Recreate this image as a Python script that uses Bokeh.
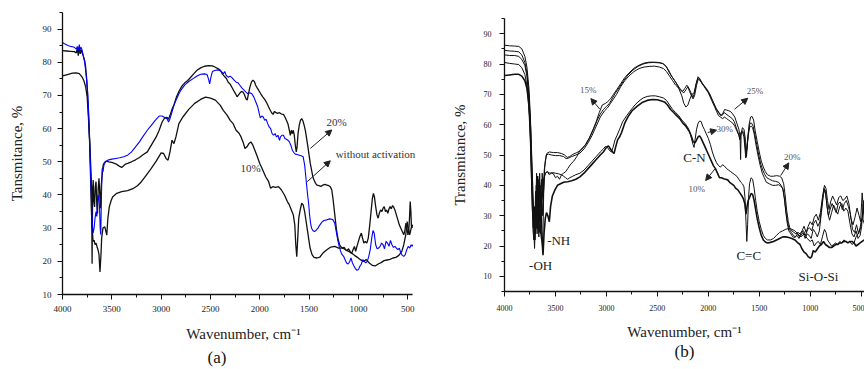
from bokeh.plotting import figure
from bokeh.layouts import row
from bokeh.models import Range1d, SingleIntervalTicker, Label, Arrow, NormalHead, Title
from bokeh.embed import file_html
from bokeh.resources import INLINE

FONT = "Liberation Serif"

# ---------------- data: (wavenumber cm-1, transmittance %) ----------------
a_without = [(4000,86.0),(3980,85.6),(3960,85.3),(3940,85.0),(3920,84.8),(3900,84.7),(3880,84.5),(3860,84.0),(3850,84.8),(3840,83.5),(3830,85.3),(3820,83.8),(3810,84.5),(3800,83.5),(3790,82.0),(3775,80.0),(3760,76.0),(3745,71.0),(3735,65.0),(3725,56.0),(3715,47.0),(3705,37.0),(3697,31.0),(3690,28.5),(3680,30.0),(3670,33.0),(3660,35.0),(3652,33.5),(3645,38.0),(3635,40.0),(3625,36.5),(3618,30.0),(3612,28.0),(3605,40.0),(3598,48.0),(3590,47.0),(3580,49.0),(3565,50.0),(3540,50.5),(3500,50.8),(3460,51.0),(3420,51.2),(3380,51.5),(3340,52.0),(3300,53.0),(3260,54.5),(3220,56.0),(3180,57.8),(3140,59.5),(3100,61.0),(3060,62.5),(3020,63.8),(2990,63.8),(2960,63.3),(2940,63.0),(2925,62.0),(2910,63.0),(2890,65.0),(2870,67.0),(2850,68.5),(2820,70.5),(2790,72.0),(2760,73.2),(2720,74.2),(2680,75.0),(2640,75.8),(2600,76.4),(2560,76.5),(2535,76.3),(2520,75.0),(2508,73.5),(2495,75.5),(2480,77.2),(2450,77.6),(2420,77.7),(2390,77.3),(2370,76.5),(2355,77.2),(2340,76.0),(2320,75.5),(2300,75.8),(2280,75.3),(2260,74.6),(2240,74.0),(2220,73.8),(2200,73.0),(2180,72.2),(2160,71.6),(2140,71.0),(2120,70.5),(2100,70.8),(2080,70.5),(2060,69.5),(2040,68.0),(2020,66.5),(2005,64.5),(1995,63.2),(1980,63.8),(1965,63.5),(1950,62.5),(1935,62.8),(1920,61.5),(1905,60.5),(1890,60.0),(1875,58.5),(1860,58.0),(1845,58.5),(1830,57.5),(1815,58.0),(1800,56.5),(1790,57.5),(1775,58.0),(1760,58.0),(1745,57.0),(1730,56.8),(1715,56.5),(1700,56.0),(1685,55.0),(1670,53.5),(1655,52.8),(1640,52.3),(1620,52.2),(1600,52.0),(1580,51.8),(1560,51.5),(1545,49.0),(1535,46.0),(1525,43.0),(1515,40.0),(1505,37.5),(1495,34.0),(1485,31.5),(1475,30.0),(1460,29.2),(1445,29.0),(1430,29.3),(1410,30.0),(1390,31.0),(1370,31.8),(1350,32.3),(1320,32.5),(1290,32.8),(1260,32.6),(1240,31.5),(1225,29.0),(1210,26.5),(1195,24.5),(1180,23.0),(1165,22.0),(1150,21.5),(1135,20.5),(1120,19.5),(1105,19.2),(1090,19.8),(1075,21.0),(1060,19.5),(1045,18.6),(1030,17.8),(1015,17.3),(1000,17.5),(985,18.5),(970,19.2),(955,20.5),(940,20.0),(925,19.5),(910,20.0),(895,21.5),(880,23.5),(865,27.0),(852,29.3),(840,28.5),(825,25.0),(810,23.8),(795,24.0),(780,24.5),(765,25.5),(750,25.0),(735,23.8),(720,26.0),(705,25.5),(690,24.5),(675,26.3),(660,25.0),(645,24.2),(630,24.5),(615,24.0),(600,23.5),(585,24.0),(570,22.5),(555,21.8),(540,21.5),(525,22.0),(510,23.5),(495,24.5),(480,24.0),(465,25.0),(455,24.5),(450,25.0)]

a_20 = [(4000,83.5),(3960,83.4),(3920,83.3),(3880,83.2),(3860,82.8),(3850,84.2),(3840,82.0),(3830,84.5),(3820,82.5),(3810,83.8),(3800,82.8),(3790,82.0),(3775,80.5),(3765,78.5),(3752,74.0),(3743,68.5),(3733,62.0),(3723,55.5),(3713,48.0),(3705,42.0),(3700,19.3),(3695,40.0),(3689,44.5),(3682,38.0),(3675,36.4),(3668,42.5),(3660,44.0),(3652,37.0),(3645,34.4),(3638,42.0),(3630,45.0),(3622,40.0),(3615,36.0),(3608,42.5),(3598,46.0),(3588,49.0),(3575,49.8),(3555,50.2),(3530,50.0),(3500,49.8),(3480,49.6),(3460,49.4),(3440,49.0),(3420,48.6),(3400,48.3),(3380,48.8),(3360,49.3),(3340,49.5),(3300,50.0),(3260,50.6),(3220,51.3),(3180,52.2),(3140,53.0),(3110,54.5),(3080,56.0),(3050,57.5),(3020,59.5),(2990,62.0),(2965,63.2),(2940,63.4),(2925,62.8),(2910,64.0),(2890,65.8),(2870,67.2),(2845,69.5),(2820,71.2),(2790,72.8),(2760,73.8),(2730,74.5),(2700,75.5),(2670,76.5),(2640,77.5),(2600,78.3),(2560,78.8),(2520,79.0),(2480,78.9),(2450,78.5),(2420,78.0),(2400,77.6),(2380,76.5),(2360,75.8),(2340,75.2),(2320,74.0),(2300,73.4),(2280,72.3),(2260,71.2),(2245,70.5),(2230,69.6),(2215,70.2),(2200,70.8),(2185,71.2),(2170,71.0),(2155,70.2),(2140,69.0),(2127,68.6),(2115,70.5),(2100,72.5),(2085,74.0),(2070,74.6),(2055,74.2),(2040,73.0),(2025,72.2),(2010,71.5),(1990,70.5),(1970,69.6),(1950,68.8),(1930,67.8),(1910,66.5),(1895,65.6),(1880,64.8),(1865,64.3),(1850,65.2),(1835,64.8),(1820,64.6),(1800,64.8),(1780,64.4),(1760,64.3),(1745,63.5),(1730,62.5),(1715,61.5),(1700,59.5),(1690,58.0),(1680,59.5),(1670,58.5),(1660,59.5),(1650,58.0),(1640,55.0),(1630,53.0),(1622,54.5),(1612,58.5),(1600,61.0),(1588,62.5),(1575,63.0),(1562,62.3),(1550,61.0),(1538,59.5),(1525,57.0),(1512,54.5),(1500,52.0),(1488,49.5),(1475,47.5),(1462,45.5),(1450,44.5),(1435,43.5),(1420,43.0),(1400,42.8),(1380,42.6),(1360,43.0),(1340,43.2),(1320,43.0),(1300,42.8),(1285,42.5),(1270,41.5),(1258,39.0),(1245,35.5),(1232,32.0),(1220,29.0),(1205,26.5),(1190,25.0),(1175,24.3),(1160,24.0),(1145,24.2),(1130,23.5),(1115,23.2),(1100,23.8),(1085,23.0),(1070,22.3),(1055,23.5),(1040,24.5),(1028,23.0),(1015,24.5),(1000,26.0),(985,27.5),(970,28.5),(958,27.0),(945,25.5),(930,26.0),(915,25.5),(900,27.0),(885,31.0),(870,35.5),(858,39.0),(848,40.5),(838,39.5),(825,36.5),(812,34.0),(800,33.0),(788,34.5),(775,35.5),(762,35.0),(750,36.0),(738,36.5),(726,35.0),(714,35.5),(702,34.5),(690,35.8),(678,36.5),(666,35.8),(654,36.8),(642,36.3),(630,35.5),(615,34.0),(600,32.5),(585,31.0),(570,30.0),(555,29.0),(540,28.0),(528,29.5),(518,31.5),(508,30.0),(498,28.0),(490,29.0),(482,33.0),(475,38.0),(468,35.0),(462,30.0),(456,31.0),(450,30.5)]

a_10 = [(4000,75.9),(3950,76.3),(3900,76.7),(3860,76.8),(3830,76.6),(3800,75.5),(3785,74.6),(3765,72.6),(3750,69.6),(3738,64.0),(3726,56.5),(3716,46.0),(3708,36.0),(3700,30.0),(3690,26.0),(3680,26.4),(3670,25.0),(3660,25.5),(3650,24.4),(3640,23.5),(3630,22.0),(3620,16.8),(3610,22.0),(3603,27.0),(3590,30.0),(3571,30.4),(3560,29.0),(3551,27.9),(3540,33.0),(3525,36.5),(3505,38.5),(3490,39.5),(3450,40.5),(3400,41.0),(3340,41.3),(3280,42.0),(3240,42.8),(3200,44.0),(3150,46.0),(3100,48.0),(3050,50.2),(3000,52.7),(2975,52.5),(2950,51.0),(2930,50.5),(2910,53.0),(2890,56.5),(2870,55.5),(2850,57.5),(2820,61.5),(2780,63.5),(2720,65.8),(2660,67.6),(2600,68.8),(2550,69.5),(2500,69.2),(2450,68.6),(2400,67.0),(2370,65.5),(2330,64.0),(2300,62.5),(2270,61.5),(2240,59.5),(2210,58.6),(2190,57.5),(2170,56.0),(2150,54.0),(2130,54.5),(2110,55.5),(2090,56.0),(2070,55.0),(2050,53.5),(2030,52.0),(2000,49.5),(1970,47.5),(1940,45.5),(1910,44.0),(1890,42.0),(1870,42.5),(1840,42.3),(1810,42.5),(1780,41.5),(1750,40.0),(1720,38.0),(1700,37.0),(1680,35.5),(1660,34.0),(1645,31.0),(1635,25.0),(1625,21.4),(1615,27.0),(1605,33.0),(1590,35.5),(1575,37.5),(1560,37.0),(1545,35.0),(1530,32.0),(1510,28.0),(1490,24.0),(1470,22.0),(1450,21.2),(1420,21.0),(1390,21.3),(1360,22.5),(1320,23.5),(1280,24.3),(1240,24.5),(1200,24.0),(1160,24.0),(1130,23.5),(1100,23.0),(1070,22.5),(1040,21.8),(1010,21.2),(980,20.5),(950,20.0),(920,20.5),(890,19.5),(860,18.8),(830,18.6),(800,19.2),(770,19.6),(740,20.2),(710,20.4),(680,20.6),(650,21.0),(620,21.2),(590,21.8),(560,23.0),(540,25.0),(520,28.0),(505,32.0),(495,30.0),(480,28.0),(465,30.0),(450,30.5)]

b_15 = [(4000,86.2),(3950,86.0),(3900,85.9),(3860,85.8),(3830,85.0),(3800,82.5),(3780,79.0),(3760,72.0),(3745,62.0),(3735,50.0),(3725,38.0),(3715,28.0),(3705,19.2),(3695,30.0),(3685,44.0),(3678,30.0),(3670,42.0),(3660,28.0),(3650,40.0),(3640,26.0),(3630,44.0),(3620,35.0),(3610,45.0),(3600,48.0),(3585,50.5),(3560,51.0),(3520,50.8),(3480,50.8),(3440,50.5),(3410,50.0),(3385,49.2),(3360,49.5),(3330,50.2),(3290,50.8),(3250,51.5),(3210,53.2),(3170,55.5),(3130,58.5),(3100,61.0),(3070,64.0),(3040,66.5),(3010,67.0),(2990,67.5),(2960,68.5),(2930,70.0),(2900,71.5),(2860,73.5),(2820,75.5),(2780,77.0),(2730,78.6),(2680,79.6),(2630,80.3),(2580,80.6),(2530,80.6),(2480,80.5),(2440,80.0),(2410,79.0),(2380,77.0),(2350,75.5),(2320,74.0),(2290,72.0),(2260,69.5),(2240,67.0),(2220,65.8),(2200,66.5),(2180,68.5),(2160,70.0),(2140,70.5),(2120,73.5),(2100,75.8),(2080,75.0),(2060,73.5),(2040,72.8),(2020,72.0),(2000,71.0),(1980,69.5),(1960,68.0),(1940,66.5),(1920,65.0),(1900,64.0),(1880,63.0),(1860,63.5),(1840,65.0),(1820,64.8),(1800,64.6),(1780,64.3),(1760,63.5),(1740,62.5),(1720,60.5),(1700,58.5),(1688,56.0),(1683,48.5),(1678,57.0),(1665,59.0),(1650,58.5),(1635,55.0),(1625,49.5),(1615,54.0),(1600,60.0),(1585,62.5),(1570,62.7),(1555,61.5),(1540,58.0),(1520,54.5),(1500,51.0),(1480,48.0),(1460,46.0),(1440,44.5),(1420,43.5),(1390,43.0),(1360,43.0),(1330,43.2),(1300,43.0),(1280,42.5),(1260,40.5),(1245,36.5),(1230,31.5),(1215,28.0),(1200,26.0),(1180,25.0),(1160,24.5),(1140,24.0),(1120,24.5),(1100,24.0),(1080,25.0),(1060,26.5),(1040,24.5),(1020,26.5),(1000,28.0),(980,27.0),(960,29.5),(940,30.5),(920,28.5),(900,31.0),(880,36.0),(860,40.0),(845,39.0),(830,35.0),(815,32.0),(800,34.5),(780,36.5),(760,35.0),(740,33.5),(720,36.0),(700,36.5),(680,35.0),(660,35.5),(640,36.5),(620,34.0),(600,29.0),(580,27.0),(560,29.5),(540,32.5),(520,30.0),(505,28.0),(490,37.5),(475,31.0),(465,30.0)]

b_25 = [(4000,84.5),(3950,84.3),(3900,84.2),(3860,84.0),(3830,83.0),(3800,80.5),(3780,77.0),(3760,70.0),(3745,60.0),(3735,48.0),(3725,36.0),(3715,27.0),(3705,24.0),(3695,38.0),(3685,28.0),(3675,43.0),(3665,27.0),(3655,41.0),(3645,25.0),(3635,38.0),(3625,30.0),(3612,42.0),(3600,44.0),(3580,44.5),(3560,43.5),(3540,44.0),(3520,43.8),(3500,42.5),(3480,43.0),(3460,42.0),(3440,43.5),(3420,44.0),(3400,44.5),(3380,45.5),(3350,47.0),(3320,48.0),(3290,49.5),(3260,51.5),(3230,52.5),(3200,53.5),(3160,56.0),(3120,59.0),(3090,61.5),(3060,63.5),(3030,65.0),(3000,66.0),(2970,67.0),(2940,68.8),(2910,70.5),(2870,72.5),(2830,74.5),(2790,76.3),(2740,78.0),(2690,79.2),(2640,80.0),(2590,80.4),(2540,80.5),(2490,80.4),(2450,80.2),(2420,79.5),(2390,78.0),(2360,76.0),(2330,74.5),(2300,73.0),(2270,71.5),(2250,71.0),(2230,72.0),(2210,73.0),(2190,72.0),(2170,70.5),(2150,69.0),(2135,70.5),(2115,74.0),(2100,75.5),(2085,75.0),(2065,74.0),(2045,73.0),(2025,72.0),(2005,71.0),(1985,70.0),(1965,68.5),(1945,67.0),(1925,65.5),(1905,64.5),(1885,63.5),(1865,63.0),(1845,64.0),(1825,63.5),(1805,63.0),(1785,62.5),(1765,62.0),(1745,61.0),(1725,59.0),(1705,57.0),(1690,55.5),(1678,57.5),(1665,58.0),(1650,57.0),(1638,53.0),(1628,50.0),(1618,53.5),(1605,58.0),(1590,60.5),(1575,60.5),(1560,59.5),(1545,57.0),(1525,53.5),(1505,50.0),(1485,47.0),(1465,45.0),(1445,43.5),(1425,42.5),(1400,42.0),(1370,41.5),(1340,41.3),(1310,41.0),(1285,40.0),(1265,38.5),(1250,35.0),(1235,30.5),(1220,27.5),(1205,25.5),(1185,24.5),(1165,23.5),(1145,23.0),(1125,24.0),(1105,23.0),(1085,24.5),(1065,25.0),(1045,23.5),(1025,25.5),(1005,26.0),(985,25.0),(965,27.5),(945,28.5),(925,26.5),(905,28.0),(885,33.5),(865,39.0),(850,38.0),(835,33.0),(820,30.0),(805,32.0),(785,34.0),(765,32.5),(745,31.0),(725,34.0),(705,34.5),(685,32.0),(665,34.0),(645,35.0),(625,33.0),(605,30.5),(585,25.5),(565,24.5),(545,27.0),(525,24.0),(505,26.0),(490,29.0),(475,35.0),(465,29.0)]

b_20 = [(4000,83.0),(3950,82.8),(3900,82.8),(3860,82.5),(3830,81.5),(3800,79.5),(3780,76.0),(3762,69.0),(3748,58.0),(3738,46.0),(3728,34.0),(3720,25.0),(3712,22.0),(3705,33.0),(3697,24.0),(3688,40.0),(3680,24.0),(3672,36.0),(3663,23.0),(3655,32.0),(3645,24.0),(3637,30.0),(3628,20.5),(3622,25.0),(3615,38.0),(3605,46.0),(3590,50.0),(3570,50.3),(3540,50.0),(3500,49.8),(3460,49.8),(3420,49.5),(3395,48.8),(3370,49.0),(3340,49.5),(3300,50.0),(3260,50.6),(3220,52.0),(3180,54.0),(3140,56.5),(3100,59.5),(3060,62.5),(3020,64.5),(2990,65.5),(2960,67.0),(2930,68.5),(2900,70.0),(2860,72.5),(2820,74.5),(2780,76.0),(2730,77.5),(2680,78.5),(2630,79.0),(2580,79.2),(2530,79.3),(2480,79.0),(2440,78.5),(2410,77.5),(2380,76.0),(2350,74.5),(2320,73.0),(2290,72.0),(2260,71.0),(2240,70.5),(2220,71.5),(2200,72.5),(2185,71.0),(2165,69.5),(2150,68.5),(2135,69.5),(2115,73.0),(2098,75.0),(2080,74.5),(2060,73.5),(2040,72.5),(2020,71.5),(2000,70.5),(1980,69.0),(1960,67.5),(1940,66.0),(1920,64.5),(1900,63.0),(1880,62.5),(1860,62.0),(1840,62.5),(1820,62.0),(1800,61.5),(1780,61.0),(1760,60.5),(1740,59.5),(1720,58.0),(1700,56.5),(1690,55.0),(1680,57.0),(1665,57.5),(1650,56.0),(1640,52.0),(1632,49.0),(1622,52.0),(1610,56.0),(1595,59.0),(1580,59.5),(1565,59.0),(1550,57.0),(1530,53.0),(1510,49.5),(1490,46.5),(1470,44.0),(1450,42.5),(1430,41.0),(1400,40.5),(1370,40.0),(1340,40.0),(1310,40.2),(1290,39.8),(1270,39.0),(1255,36.0),(1240,31.5),(1225,27.5),(1210,25.0),(1190,24.0),(1170,23.0),(1150,22.8),(1130,23.5),(1110,22.5),(1090,23.5),(1070,24.5),(1050,22.5),(1030,24.0),(1010,23.5),(990,22.5),(970,25.5),(950,24.5),(930,23.0),(910,25.0),(890,31.0),(870,37.0),(855,38.5),(840,35.0),(825,30.5),(810,28.5),(790,31.0),(770,33.5),(750,32.0),(730,30.5),(710,33.0),(690,34.0),(670,31.5),(650,32.5),(630,31.5),(610,27.5),(590,24.0),(570,23.0),(550,25.0),(530,22.5),(510,23.5),(495,26.5),(480,34.0),(470,28.0)]

b_30 = [(4000,80.5),(3950,80.2),(3900,80.0),(3860,79.8),(3830,78.8),(3800,76.5),(3780,73.0),(3762,66.0),(3748,56.0),(3738,45.0),(3728,33.0),(3718,26.0),(3710,32.0),(3700,22.0),(3692,35.0),(3683,26.0),(3674,43.0),(3665,30.0),(3655,44.0),(3645,33.0),(3635,42.0),(3625,36.0),(3615,42.0),(3600,44.0),(3580,44.5),(3555,44.0),(3530,44.2),(3500,44.0),(3470,43.8),(3440,43.5),(3420,43.0),(3400,42.5),(3380,42.0),(3360,42.5),(3330,43.0),(3300,43.5),(3260,44.0),(3220,45.0),(3180,46.5),(3140,48.0),(3100,49.5),(3060,51.0),(3030,52.0),(3010,52.8),(2990,52.5),(2970,51.5),(2950,51.0),(2935,52.5),(2915,55.0),(2895,56.5),(2870,58.5),(2840,61.0),(2800,63.0),(2760,64.8),(2720,66.5),(2680,67.8),(2640,68.8),(2600,69.3),(2560,69.5),(2520,69.5),(2480,69.2),(2440,68.8),(2410,68.0),(2380,66.5),(2350,65.0),(2320,64.0),(2290,63.0),(2260,61.5),(2230,60.5),(2200,59.0),(2180,57.5),(2165,55.5),(2150,53.5),(2140,52.5),(2130,55.0),(2115,58.5),(2100,60.5),(2085,61.2),(2070,61.0),(2055,59.5),(2040,58.5),(2020,57.0),(2000,55.5),(1980,53.5),(1960,51.0),(1940,49.0),(1920,47.5),(1900,46.5),(1880,46.0),(1860,46.8),(1840,46.3),(1820,45.5),(1800,45.0),(1780,44.5),(1760,44.0),(1740,43.5),(1720,43.0),(1700,42.0),(1680,41.0),(1665,40.5),(1650,39.5),(1640,36.0),(1630,28.0),(1622,21.5),(1614,27.0),(1605,36.0),(1595,40.5),(1580,42.5),(1565,42.0),(1550,39.0),(1535,35.0),(1520,31.5),(1500,28.0),(1480,25.5),(1460,23.5),(1440,22.5),(1420,22.0),(1390,22.0),(1360,22.5),(1330,23.5),(1300,24.5),(1270,25.0),(1240,25.5),(1210,25.8),(1180,25.5),(1150,25.0),(1120,24.0),(1090,23.0),(1060,24.0),(1030,22.5),(1000,21.5),(980,22.0),(960,20.0),(940,21.0),(920,21.5),(900,20.5),(880,23.0),(860,25.5),(845,24.5),(830,22.0),(810,21.0),(790,20.0),(770,20.5),(750,21.0),(730,20.5),(710,21.5),(690,21.0),(670,22.0),(650,21.5),(630,21.0),(610,21.5),(590,20.5),(570,21.0),(550,23.0),(530,24.0),(510,26.0),(495,29.0),(480,28.5),(465,27.0)]

b_10 = [(4000,76.2),(3950,76.4),(3900,76.6),(3860,76.6),(3830,76.0),(3800,74.5),(3780,72.0),(3765,68.0),(3750,62.0),(3738,52.0),(3728,42.0),(3718,33.0),(3708,28.0),(3698,26.0),(3688,30.0),(3678,25.5),(3668,29.0),(3658,24.5),(3648,27.0),(3638,23.0),(3630,21.0),(3622,17.0),(3612,24.0),(3600,29.0),(3588,31.0),(3575,30.0),(3560,28.0),(3548,33.0),(3530,36.5),(3505,38.5),(3480,40.0),(3450,40.5),(3420,41.0),(3380,41.2),(3340,41.5),(3300,42.0),(3260,42.8),(3220,44.0),(3180,45.5),(3140,47.0),(3100,48.5),(3060,50.0),(3030,51.0),(3000,52.5),(2980,53.0),(2960,52.0),(2940,51.0),(2925,50.5),(2910,52.5),(2890,55.0),(2870,56.0),(2850,57.5),(2820,60.5),(2790,62.5),(2750,64.5),(2700,66.0),(2650,67.3),(2600,68.0),(2550,68.3),(2500,68.2),(2460,67.8),(2430,67.5),(2400,66.5),(2370,65.0),(2340,64.0),(2310,63.0),(2280,62.0),(2250,60.5),(2220,59.5),(2190,58.0),(2170,56.5),(2150,54.5),(2130,54.0),(2115,55.0),(2100,56.0),(2085,56.3),(2070,55.5),(2050,54.0),(2030,52.5),(2010,51.0),(1990,49.5),(1970,48.0),(1950,46.5),(1930,45.5),(1910,44.0),(1890,42.5),(1870,42.5),(1850,42.2),(1830,42.0),(1810,41.8),(1790,41.0),(1770,40.5),(1750,40.0),(1730,39.0),(1710,38.5),(1690,37.5),(1670,36.5),(1655,35.5),(1642,34.0),(1630,30.5),(1620,33.0),(1608,35.0),(1595,36.0),(1580,37.3),(1565,37.0),(1550,35.0),(1535,32.0),(1520,29.0),(1500,26.0),(1480,23.5),(1460,22.0),(1440,21.3),(1420,21.0),(1390,21.2),(1360,21.5),(1330,22.0),(1300,22.5),(1270,23.0),(1240,23.0),(1210,22.8),(1180,22.5),(1150,22.0),(1120,21.0),(1100,20.5),(1080,19.0),(1060,18.0),(1040,17.5),(1020,16.5),(1000,16.0),(985,16.5),(970,18.5),(950,18.0),(930,19.0),(910,20.0),(890,20.5),(870,21.5),(850,20.5),(830,20.0),(810,19.5),(790,19.5),(770,20.0),(750,20.5),(730,20.5),(710,21.0),(690,21.0),(670,21.5),(650,21.5),(630,21.0),(610,21.5),(590,21.5),(570,21.0),(550,20.0),(530,20.5),(510,21.0),(490,21.5),(470,22.0)]

x_ticks_step = 500
y_ticks_step = 10

# ---------------- annotations ----------------
a_labels = [("20%", 1221, 62.0, "center", "11px"),
            ("without activation", 1231, 52.3, "left", "11px"),
            ("10%", 2093, 48.0, "center", "11px")]
a_arrows = [(1488, 54.0, 1270, 59.6), (1519, 44.0, 1285, 50.3)]

b_labels = [("15%", 3177, 71.4, "center", "9px"),
            ("25%", 1542, 71.1, "center", "9px"),
            ("30%", 1839, 58.5, "center", "9px"),
            ("20%", 1177, 49.2, "center", "9px"),
            ("10%", 2113, 38.9, "center", "9px"),
            ("C-N", 2135, 49.2, "center", "13px"),
            ("C=C", 1603, 17.0, "center", "13px"),
            ("-OH", 3645, 13.7, "center", "13px"),
            ("-NH", 3468, 21.9, "center", "13px"),
            ("Si-O-Si", 919, 10.1, "center", "13px")]
b_arrows = [(3064, 65.1, 3152, 68.6), (1742, 65.1, 1613, 68.7), (2006, 57.4, 1919, 58.2),
            (1290, 43.2, 1210, 47.4), (1935, 45.4, 2026, 41.6)]

H = 369


def make_fig(width, xr, yr, bl, br, bt, bb, ylabel, tick_size, ylab_standoff, tick_standoff, xlab_standoff):
    p = figure(width=width, height=H, x_range=Range1d(*xr), y_range=Range1d(*yr),
               output_backend="svg", toolbar_location=None, title=None,
               min_border_left=bl, min_border_right=br, min_border_top=bt, min_border_bottom=bb)
    p.frame_align = False
    p.grid.visible = False
    p.outline_line_color = None
    p.background_fill_color = "white"
    p.border_fill_color = "white"
    p.xaxis.ticker = SingleIntervalTicker(interval=x_ticks_step, num_minor_ticks=2)
    p.yaxis.ticker = SingleIntervalTicker(interval=y_ticks_step, num_minor_ticks=2)
    for ax in (p.xaxis[0], p.yaxis[0]):
        ax.axis_line_color = "#111"
        ax.axis_line_width = 1.3
        ax.major_tick_line_color = "#111"
        ax.minor_tick_line_color = "#111"
        ax.major_tick_in = 0
        ax.major_tick_out = 5
        ax.minor_tick_in = 0
        ax.minor_tick_out = 3
        ax.major_label_text_font = FONT
        ax.major_label_text_font_size = tick_size
        ax.major_label_text_color = "#222"
        ax.axis_label_text_font = FONT
        ax.axis_label_text_font_style = "normal"
        ax.axis_label_text_color = "#222"
        ax.major_label_standoff = tick_standoff
    p.xaxis.axis_label = "Wavenumber, cm\u207b\u00b9"
    p.xaxis.axis_label_text_font_size = "15px"
    p.xaxis.axis_label_standoff = xlab_standoff
    p.yaxis.axis_label = ylabel
    p.yaxis.axis_label_text_font_size = "15px"
    p.yaxis.axis_label_standoff = ylab_standoff
    return p


def draw(p, series, color, width):
    p.line([w for w, t in series], [t for w, t in series], line_color=color, line_width=width)


def annotate(p, labels, arrows, color):
    for txt, x, y, align, size in labels:
        p.add_layout(Label(x=x, y=y, text=txt, text_font=FONT, text_font_size=size,
                           text_align=align, text_baseline="middle", text_color=color))
    for x0, y0, x1, y1 in arrows:
        p.add_layout(Arrow(end=NormalHead(size=6, fill_color="#222", line_color="#222"),
                           x_start=x0, y_start=y0, x_end=x1, y_end=y1,
                           line_color="#222", line_width=1))


def panel_title(p, text, offset, standoff):
    p.add_layout(Title(text=text, align="left", offset=offset, standoff=standoff,
                       text_font=FONT, text_font_size="17px", text_font_style="normal",
                       text_color="#111"), "below")


# ---------------- panel (a) ----------------
pa = make_fig(448, (4000, 330), (10, 95), 62, 24, 12, 75, "Tansmitance, %", "9px", 15, 6, 11)
pa.xaxis.bounds = (450, 4000)
draw(pa, a_10, "#111", 1.3)
draw(pa, a_20, "#111", 1.3)
draw(pa, a_without, "#0000ff", 1.1)
annotate(pa, a_labels, a_arrows, "#333")
panel_title(pa, "(a)", 145, 2)

# ---------------- panel (b) ----------------
pb = make_fig(416, (4000, 467), (5, 95), 51, 0, 18, 78, "Transmitance, %", "8px", 13, 8, 10)
for s in (b_15, b_25, b_20, b_30):
    draw(pb, s, "#111", 1.0)
draw(pb, b_10, "#111", 1.6)
annotate(pb, b_labels[:5], b_arrows, "#555")
annotate(pb, b_labels[5:], [], "#222")
panel_title(pb, "(b)", 170, -5)

layout = row(pa, pb)
open("out.html", "w").write(file_html(layout, INLINE))
